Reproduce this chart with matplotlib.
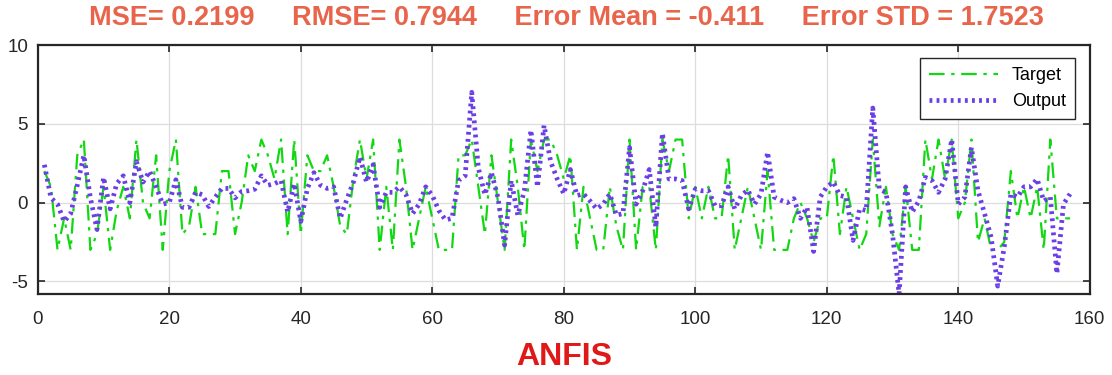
import numpy as np
import matplotlib
matplotlib.use("Agg")
import matplotlib.pyplot as plt
from matplotlib import font_manager

# sample index and values
idx = list(range(1, 158))

target = [2, 1, -3, -1, -3, 3, 4, -3, -2, 1,
          -3, -0.5, 1, -1, 4, 0, -1, 3, -3, 2,
          4, -2, -1.5, 1, -2, -2, -2, 2, 2, -2,
          0, 3, 2, 4, 3, 1.5, 4, -2, 4, -2,
          3, 2, 2, 3, 1, -1.5, -2, 1.5, 4, 1.5,
          4, -3, 1, -3, 4, 1, -3, -1, 1, -1,
          -3, -3, -3, 3, 3, 4, 1, -2, 3, 0,
          -3, 4, 1, -3, 4, 2, 4, 4, 3, 1.5,
          3, -3, 1, -1, -3, -3, 1, -1.5, -3, 4,
          -3, 1, 1, -3, 4, 2, 4, 4, -1, 1,
          -1, 1, -1, -1, 3, -3, -1, 1, -1, -3,
          2, -3, -3, -3, -1, 0, -1, -2.5, -1, -1,
          3, -2, 1, -1, -3, -2, 4, -1.5, 1, -2,
          -3, 1, -3, -3, 4, 1.5, 4, 1.5, 4, -1,
          0, 4, -2.5, -1, -3, -3, -2.5, 2, -1, 1,
          -1, 1, -3, 4, -1, -1, -1]

output = [2.4, 0.3, -0.1, -1.2, -0.7, 1.1, 3.0, 0.3, -1.7, 1.6,
          -0.4, 1.2, 1.7, 0.0, 2.6, 1.3, 2.0, 1.0, -0.1, 0.0,
          1.45, -0.3, -0.3, 0.65, 0.5, -0.25, 0.35, 0.9, 0.9, 0.3,
          0.7, 0.75, 0.85, 1.7, 1.1, 1.2, 1.4, -0.6, 1.2, -1.2,
          0.9, 1.9, 1.1, 0.9, 1.0, -1.0, 0.2, 1.3, 2.9, 1.3,
          2.4, -0.3, 0.65, 0.65, 1.0, 0.5, -0.7, -0.1, 1.0, 0.45,
          -0.5, -1.1, -1.0, 1.4, 1.7, 7.0, 2.2, 0.5, 1.9, 0.3,
          -2.7, 1.4, -0.8, 0.75, 4.6, 1.0, 4.9, 2.6, 1.5, 0.55,
          2.1, 0.45, 0.55, 0.1, -0.4, -0.1, 0.55, -0.8, -0.7, 3.5,
          -0.1, 0.75, 2.1, -1.55, 4.4, 1.5, 1.5, 1.4, -0.4, 0.85,
          0.75, 0.75, -0.2, -0.2, 1.0, -0.4, 0.45, 0.8, -0.1, 0.55,
          3.2, 0.35, 0.15, 0.0, 0.25, -1.0, -0.3, -3.1, 0.35, 1.0,
          1.3, 0.45, 0.35, -2.4, -0.4, -0.5, 6.0, 0.85, 0.65, -2.0,
          -5.8, 1.0, -0.6, 0.1, 1.6, 1.4, 0.65, 1.5, 4.0, -0.1,
          0.35, 3.5, 0.75, -0.7, -2.2, -5.3, -2.8, 0.55, 0.35, 1.0,
          1.0, 1.5, 0.1, 0.35, -4.5, -0.1, 0.55]

x_ticks = [0, 20, 40, 60, 80, 100, 120, 140, 160]
y_ticks = [-5, 0, 5, 10]

title_txt = "MSE= 0.2199     RMSE= 0.7944     Error Mean = -0.411     Error STD = 1.7523"

names = {f.name for f in font_manager.fontManager.ttflist}
narrow = "Liberation Sans Narrow" if "Liberation Sans Narrow" in names else "Liberation Sans"

plt.rcParams['font.family'] = ['Liberation Sans', 'DejaVu Sans']
plt.rcParams['axes.unicode_minus'] = False

fig = plt.figure(figsize=(11.12, 3.75), dpi=100)
ax = fig.add_axes([0.034, 0.216, 0.946, 0.664])

ax.plot(idx, target, linestyle=(0, (7, 3, 1.5, 3)), color='#12D812', linewidth=1.6,
        label='Target')
ax.plot(idx, output, linestyle=(0, (0.6, 0.9)), color='#6A3FE6', linewidth=3.4,
        label='Output')

ax.set_xlim(0, 160)
ax.set_ylim(-5.8, 10)
ax.set_xticks(x_ticks)
ax.set_yticks(y_ticks)
ax.grid(True, color='#DDDDDD', linewidth=0.9)
ax.set_axisbelow(True)
ax.tick_params(direction='in', top=True, right=True, length=5, width=1.2,
               labelsize=13.5, colors='#262626')
ax.tick_params(axis='x', pad=12)
ax.tick_params(axis='y', pad=7)
for s in ax.spines.values():
    s.set_linewidth(1.6)
    s.set_color('#262626')

leg = ax.legend(loc='upper right', fontsize=13, fancybox=False, framealpha=1,
                edgecolor='#262626', handlelength=3.8, borderpad=0.5,
                labelspacing=0.5, borderaxespad=0,
                bbox_to_anchor=(0.986, 0.948))
leg.get_frame().set_linewidth(1.0)

fig.text(0.509, 0.951, title_txt, ha='center', va='center', fontsize=19.5,
         fontweight='bold', color='#E8654C', family=[narrow, 'DejaVu Sans'])
ax.set_xlabel('ANFIS', fontsize=23, fontweight='bold', color='#E01818',
              labelpad=10)

fig.savefig('out.png', dpi=100)
